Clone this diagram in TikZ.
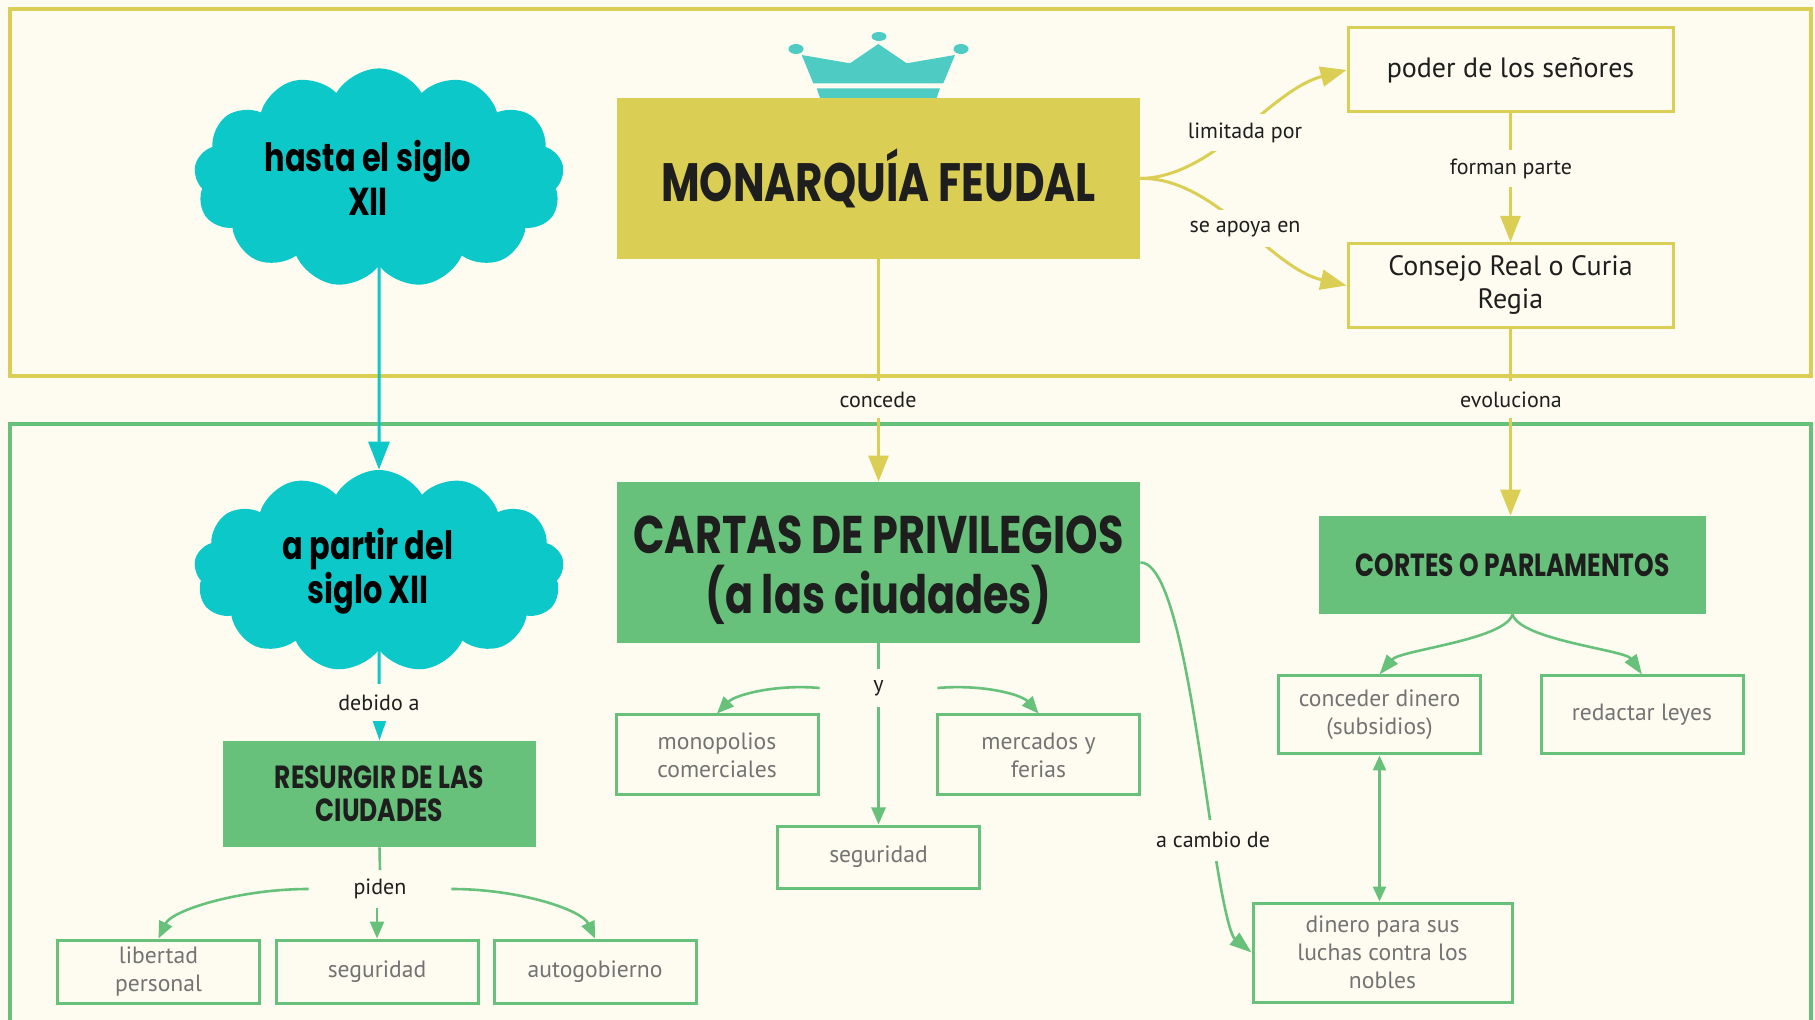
\documentclass[tikz,border=0pt]{standalone}
\usepackage{fontspec}
\setmainfont{PT Sans}
\newfontfamily\headfont{Poppins}[FakeStretch=0.78]
\usetikzlibrary{shapes.symbols,arrows.meta}
\definecolor{bg}{HTML}{FEFCF1}
\definecolor{ylw}{HTML}{DACE55}
\definecolor{grn}{HTML}{68C17A}
\definecolor{cyn}{HTML}{0CC8C8}
\definecolor{crowncol}{HTML}{4ECCC4}
\definecolor{leaftxt}{HTML}{737373}
\definecolor{txt}{HTML}{1E1E1E}
\pgfdeclarelayer{bglayer}
\pgfsetlayers{bglayer,main}
\begin{document}
\begin{tikzpicture}[x=0.5pt,y=-0.5pt,
  ybox/.style={draw=ylw, line width=1.5pt, fill=bg, minimum width=162.5pt, minimum height=42pt, align=center, text=txt, font=\fontsize{14}{16.5}\selectfont},
  leaf/.style={draw=grn, line width=1.5pt, fill=bg, minimum width=101pt, align=center, text=leaftxt, font=\fontsize{11.8}{14}\selectfont},
  lbl/.style={fill=bg, minimum height=18.5pt, inner xsep=8pt, inner ysep=0pt, text=txt, font=\fontsize{11}{13}\selectfont},
  hbox/.style={inner sep=0pt, align=center, text=txt},
  cloudbox/.style={cloud, cloud puffs=13, cloud puff arc=120, aspect=1.8, fill=cyn, minimum width=185pt, minimum height=101pt, inner sep=0pt, align=center, text=black, font=\headfont\bfseries\fontsize{19.5}{22}\selectfont},
  yl/.style={draw=ylw, line width=1.5pt},
  gr/.style={draw=grn, line width=1.3pt},
  cy/.style={draw=cyn, line width=1.5pt},
  bigtip/.style={-{Triangle[length=13pt,width=10pt]}},
  midtip/.style={-{Triangle[length=10pt,width=7pt]}},
  smalltip/.style={-{Triangle[length=8.5pt,width=7pt]}},
  dbltip/.style={{Triangle[length=7.5pt,width=6.5pt]}-{Triangle[length=7.5pt,width=6.5pt]}}
]
\useasboundingbox (0,0) rectangle (1815,1020);
\begin{pgfonlayer}{bglayer}
\fill[bg] (0,0) rectangle (1815,1020);
\draw[ylw, line width=2pt] (10,9) rectangle (1811,376);
\draw[grn, line width=2pt] (10,1040) -- (10,424) -- (1811,424) -- (1811,1040);
\end{pgfonlayer}

% crown
\fill[crowncol] (801.7,55) -- (850,63.3) -- (878.3,44) -- (906.7,63.3) -- (955,55) -- (943.3,83.3) -- (813.3,83.3) -- cycle;
\fill[crowncol] (816.7,88.3) -- (940,88.3) -- (936.7,98) -- (820,98) -- cycle;
\fill[crowncol] (796,49) ellipse [x radius=7.5, y radius=5];
\fill[crowncol] (879,36.5) ellipse [x radius=7.5, y radius=4.5];
\fill[crowncol] (961,49) ellipse [x radius=7.5, y radius=5];

% main nodes
\node[cloudbox] (c1) at (379,178) {hasta el siglo\hspace*{11pt}\\XII\hspace*{11pt}};
\node[cloudbox] (c2) at (379,571) {a partir del\hspace*{11pt}\\siglo XII\hspace*{11pt}};

\node[hbox, fill=ylw, minimum width=261.5pt, minimum height=80.5pt, font=\headfont\bfseries\fontsize{27}{30}\selectfont] (mon) at (878.5,178.5) {MONARQUÍA FEUDAL};
\node[ybox] (poder) at (1510.5,70) {poder de los señores};
\node[ybox] (consejo) at (1510.5,285.5) {Consejo Real o Curia\\Regia};

\node[hbox, fill=grn, minimum width=261.5pt, minimum height=80.5pt, font=\headfont\bfseries\fontsize{26.5}{30}\selectfont] (cartas) at (878.5,562.5) {\rule{0pt}{27pt}CARTAS DE PRIVILEGIOS\\(a las ciudades)};
\node[hbox, fill=grn, minimum width=193.5pt, minimum height=49pt, font=\headfont\bfseries\fontsize{16}{18}\selectfont] (cortes) at (1512.5,565) {CORTES O PARLAMENTOS};
\node[hbox, fill=grn, minimum width=156.5pt, minimum height=53pt, font=\headfont\bfseries\fontsize{16}{16.5}\selectfont] (resurgir) at (379.5,794) {RESURGIR DE LAS\\CIUDADES};

\node[leaf, minimum height=31.5pt] (lib) at (158.5,971.5) {libertad\\personal};
\node[leaf, minimum height=31.5pt] (seg1) at (377,971.5) {seguridad};
\node[leaf, minimum height=31.5pt] (auto) at (595,971.5) {autogobierno};
\node[leaf, minimum height=40pt] (mono) at (717,755) {monopolios\\comerciales};
\node[leaf, minimum height=40pt] (merc) at (1038.5,755) {mercados y\\ferias};
\node[leaf, minimum height=31pt] (seg2) at (878.5,857) {seguridad};
\node[leaf, minimum height=39pt] (conc) at (1379.5,715) {conceder dinero\\(subsidios)};
\node[leaf, minimum height=39pt] (red) at (1642,715) {redactar leyes};
\node[leaf, minimum width=129.5pt, minimum height=49.5pt] (dinero) at (1382.5,952.5) {dinero para sus\\luchas contra los\\nobles};

% labels
\node[lbl] (limitada) at (1245,133) {limitada por};
\node[lbl] (apoya) at (1245,229) {se apoya en};
\node[lbl] (forman) at (1511,169) {forman parte};
\node[lbl] (concede) at (878,400) {concede};
\node[lbl] (evol) at (1511,400) {evoluciona};
\node[lbl] (debido) at (379,703) {debido a};
\node[lbl, minimum width=71pt] (piden) at (380,889) {piden};
\node[lbl, minimum width=58.5pt] (yy) at (878.5,688) {y};
\node[lbl, minimum height=20.5pt] (cambio) at (1213,840) {a cambio de};

% connectors
\begin{pgfonlayer}{bglayer}
\draw[yl, bigtip] (mon.east) .. controls (1215,177) and (1270,90) .. (poder.west);
\draw[yl, bigtip] (mon.east) .. controls (1215,177) and (1270,268) .. (consejo.west);
\draw[yl, bigtip] (poder.south) -- (consejo.north);
\draw[yl, bigtip] (consejo.south) -- (consejo.south |- cortes.north);
\draw[yl, bigtip] (mon.south) -- (cartas.north);
\draw[cy, -{Triangle[length=14pt,width=10.5pt]}] (c1.south) -- (c2.north);
\draw[cy, -{Triangle[length=11.5pt,width=7.5pt]}] (c2.south) -- (resurgir.north);
\draw[gr] (resurgir.south) -- (piden.north);
\draw[gr, smalltip] (piden.west) .. controls (240,889) and (172,910) .. (lib.north);
\draw[gr, smalltip] (seg1.north |- piden.south) -- (seg1.north);
\draw[gr, smalltip] (piden.east) .. controls (520,889) and (582,910) .. (auto.north);
\draw[gr] (cartas.south) -- (yy.north);
\draw[gr, smalltip] (yy.west) .. controls (775,684) and (735,695) .. (mono.north);
\draw[gr, smalltip] (yy.south) -- (seg2.north);
\draw[gr, smalltip] (yy.east) .. controls (985,684) and (1022,695) .. (merc.north);
\draw[gr] (cartas.east) .. controls (1175,562) and (1195,720) .. (cambio.center);
\draw[gr, -{Triangle[length=11pt,width=7.5pt]}] (cambio.center) .. controls (1222,900) and (1230,935) .. (dinero.west);
\draw[gr, midtip] (cortes.south) .. controls (1505,640) and (1400,650) .. (conc.north);
\draw[gr, midtip] (cortes.south) .. controls (1520,640) and (1625,650) .. (red.north);
\draw[gr, dbltip] (conc.south) -- (conc.south |- dinero.north);
\end{pgfonlayer}
\end{tikzpicture}
\end{document}
